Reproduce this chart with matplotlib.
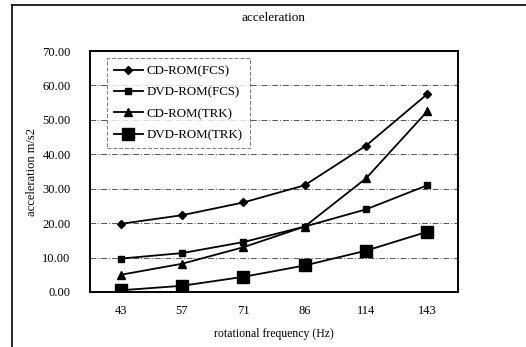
import matplotlib
matplotlib.use("Agg")
import matplotlib.pyplot as plt
from matplotlib.lines import Line2D
import numpy as np

categories = ["43", "57", "71", "86", "114", "143"]
cd_fcs = [19.8, 22.3, 26.0, 31.0, 42.5, 57.5]
dvd_fcs = [9.7, 11.3, 14.5, 19.0, 24.0, 31.0]
cd_trk = [5.0, 8.2, 13.0, 19.0, 33.0, 52.5]
dvd_trk = [0.5, 1.8, 4.4, 7.7, 12.0, 17.5]
series_names = ["CD-ROM(FCS)", "DVD-ROM(FCS)", "CD-ROM(TRK)", "DVD-ROM(TRK)"]
y_ticks = [0, 10, 20, 30, 40, 50, 60, 70]

plt.rcParams['font.family'] = ['Liberation Serif', 'DejaVu Serif']

W, H = 526, 347
fig = plt.figure(figsize=(W / 100, H / 100), dpi=100)
fig.patch.set_facecolor("white")

left, right, top, bottom = 90, 458, 51, 292
ax = fig.add_axes([left / W, 1 - bottom / H, (right - left) / W, (bottom - top) / H])

x = np.arange(len(categories))
styles = [
    dict(marker="D", markersize=4),
    dict(marker="s", markersize=4.5),
    dict(marker="^", markersize=5.5),
    dict(marker="s", markersize=8),
]
for vals, name, st in zip([cd_fcs, dvd_fcs, cd_trk, dvd_trk], series_names, styles):
    ax.plot(x, vals, color="black", linewidth=1.3, label=name,
            markerfacecolor="black", markeredgecolor="black", **st)

ax.set_xlim(-0.5, len(categories) - 0.5)
ax.set_ylim(0, 70)
ax.set_yticks(y_ticks)
ax.set_yticklabels([f"{v:.2f}" for v in y_ticks], fontsize=9)
ax.set_xticks(x)
ax.set_xticklabels(categories, fontsize=9)
ax.tick_params(axis="both", length=0, pad=9)
ax.tick_params(axis="y", pad=14)
for v in y_ticks[1:]:
    ax.axhline(v, color="#555555", linewidth=0.7, linestyle=(0, (6, 2, 1, 2)), zorder=0)
for s in ax.spines.values():
    s.set_linewidth(1.4)
    s.set_color("black")

ax.set_xlabel("rotational frequency (Hz)", fontsize=8.5, labelpad=8)
ax.set_ylabel("acceleration m/s2", fontsize=9, labelpad=3)
fig.text(0.5 * (left + right) / W, 1 - 18 / H, "acceleration", ha="center", va="center", fontsize=9.5)

leg = ax.legend(loc="upper left", bbox_to_anchor=(17 / (right - left), 1 - 7 / (bottom - top)),
                fontsize=9.3, frameon=True, fancybox=False, handlelength=2.2,
                borderpad=0.55, labelspacing=0.72, handletextpad=0.3, borderaxespad=0)
leg.get_frame().set_edgecolor("#555555")
leg.get_frame().set_linestyle((0, (4, 2)))
leg.get_frame().set_linewidth(0.7)

# outer frame
fig.add_artist(Line2D([12 / W, 12 / W], [0, 1 - 5 / H], color="black", linewidth=1.2,
                      transform=fig.transFigure))
fig.add_artist(Line2D([12 / W, 1], [1 - 5 / H, 1 - 5 / H], color="black", linewidth=1.2,
                      transform=fig.transFigure))

fig.savefig("out.png", dpi=100)
